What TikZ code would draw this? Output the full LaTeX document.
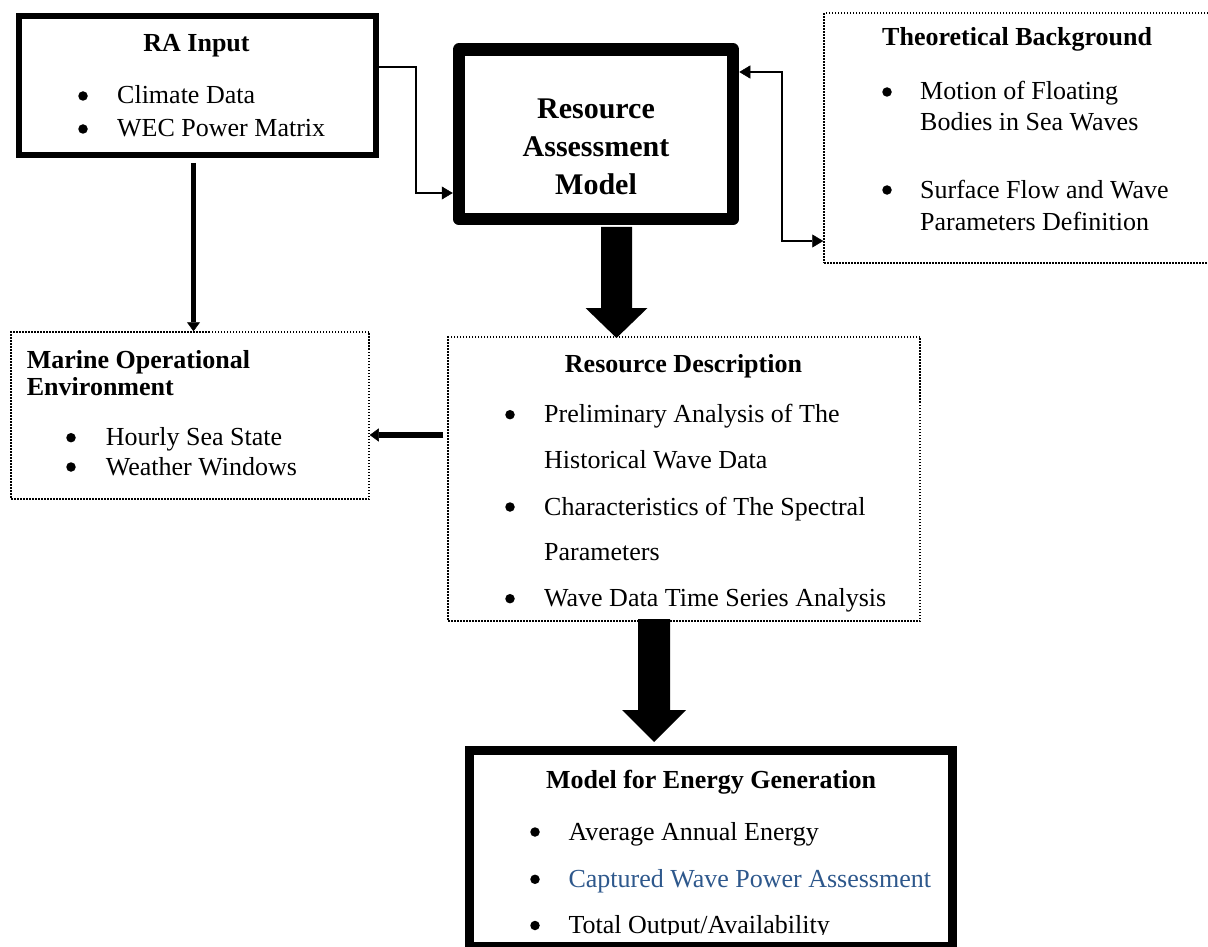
\documentclass[tikz,border=0pt]{standalone}
\usepackage{fontspec}
\setmainfont{Liberation Serif}
\usetikzlibrary{arrows.meta,calc}
\definecolor{capblue}{RGB}{46,88,140}

% one bulleted line: name, bullet x, text x, baseline y, text
\newcommand\bulletline[5]{%
  \node[dot] (#1b) at (#2,#4-8) {};
  \node[txt,anchor=base west] (#1) at (#3,#4) {#5};}

\begin{document}
\begin{tikzpicture}[x=1pt,y=-1pt,
  txt/.style={inner sep=0pt,font=\fontsize{26}{30}\selectfont},
  hd/.style={inner sep=0pt,font=\fontsize{26}{30}\selectfont\bfseries},
  bighd/.style={inner sep=0pt,font=\fontsize{30}{38}\selectfont\bfseries},
  dot/.style={circle,fill,inner sep=0pt,minimum size=9.5pt},
  solidbox/.style={draw,rectangle,inner sep=0pt},
  dotbox/.style={draw,rectangle,inner sep=0pt,line width=1.5pt,dash pattern=on 1.5pt off 1.5pt},
  thinconn/.style={line width=1.8pt,-{Triangle[length=11pt,width=13pt,line width=0.5pt]}},
  twoway/.style={line width=1.8pt,{Triangle[length=11pt,width=13pt,line width=0.5pt]}-{Triangle[length=11pt,width=13pt,line width=0.5pt]}},
  thickconn/.style={line width=5.5pt,-{Triangle[length=9pt,width=13pt,line width=0.5pt]}}
]
\useasboundingbox (0,0) rectangle (1208,947);
\clip (0,0) rectangle (1208,947);

% ---- boxes ----
\node[solidbox,line width=6pt,minimum width=357pt,minimum height=139pt] (ra) at (197.5,85.5) {};
\node[solidbox,line width=12.5pt,line join=round,minimum width=274pt,minimum height=169.5pt] (ram) at (596,134.25) {};
\node[dotbox,minimum width=391pt,minimum height=250pt] (tb) at (1019.5,138) {};
\node[dotbox,minimum width=358pt,minimum height=167pt] (moe) at (190,415.5) {};
\node[dotbox,minimum width=472pt,minimum height=284pt] (rd) at (684,479) {};
\node[solidbox,line width=9pt,minimum width=483pt,minimum height=195.5pt] (meg) at (711,848.25) {};

% ---- RA Input ----
\node[hd,anchor=base] (rat) at (196.5,52) {RA Input};
\bulletline{ra1}{83}{117}{104}{Climate Data}
\bulletline{ra2}{83}{117}{137}{WEC Power Matrix}

% ---- Resource Assessment Model ----
\node[bighd,anchor=base] (ramt1) at (596,118.3) {Resource};
\node[bighd,anchor=base] (ramt2) at (596,156.7) {Assessment};
\node[bighd,anchor=base] (ramt3) at (596,194.3) {Model};

% ---- Theoretical Background ----
\node[hd,anchor=base west] (tbt) at (882,46) {Theoretical Background};
\bulletline{tb1}{887}{920}{100}{Motion of Floating}
\node[txt,anchor=base west] (tb1c) at (920,130.7) {Bodies in Sea Waves};
\bulletline{tb2}{887}{920}{198}{Surface Flow and Wave}
\node[txt,anchor=base west] (tb2c) at (920,230) {Parameters Definition};

% ---- Marine Operational Environment ----
\node[hd,anchor=base west] (moet1) at (26.7,368.3) {Marine Operational};
\node[hd,anchor=base west] (moet2) at (26.7,395) {Environment};
\bulletline{moe1}{71}{105.7}{445.7}{Hourly Sea State}
\bulletline{moe2}{71}{105.7}{475}{Weather Windows}

% ---- Resource Description ----
\node[hd,anchor=base] (rdt) at (683.5,372.7) {Resource Description};
\bulletline{rd1}{510}{544}{422.7}{Preliminary Analysis of The}
\node[txt,anchor=base west] (rd1c) at (544,468.3) {Historical Wave Data};
\bulletline{rd2}{510}{544}{515}{Characteristics of The Spectral}
\node[txt,anchor=base west] (rd2c) at (544,560) {Parameters};
\bulletline{rd3}{510}{544}{606.7}{Wave Data Time Series Analysis}

% ---- Model for Energy Generation ----
\node[hd,anchor=base] (megt) at (711,788.3) {Model for Energy Generation};
\bulletline{meg1}{535}{568.3}{840}{Average Annual Energy}
\bulletline{meg2}{535}{568.3}{887.3}{\color{capblue}Captured Wave Power Assessment}
\begin{scope}
  \clip (480,900) rectangle (945,934.5);
  \bulletline{meg3}{535}{568.3}{933.5}{Total Output/Availability}
\end{scope}

% ---- connectors ----
\draw[thinconn] (ra.east |- 0,67) -- (416,67) |- (ram.west |- 0,193);
\draw[twoway] (ram.east |- 0,72) -- (782,72) |- (tb.west |- 0,241);
\draw[thickconn,shorten <=5pt] (ra.south -| 193.5,0) -- (moe.north -| 193.5,0);
\draw[thickconn,shorten <=4pt] (rd.west |- 0,435) -- (moe.east |- 0,435);

% block arrows
\coordinate (p1) at (ram.south -| 616.5,0);
\coordinate (p2) at (rd.north -| 616.5,0);
\fill ($(p1)+(-15.5,1.5)$) -- ($(p1)+(15.5,1.5)$) -- ($(p2)+(15.5,-28.25)$)
  -- ($(p2)+(31,-28.25)$) -- ($(p2)+(0,1.75)$) -- ($(p2)+(-31,-28.25)$)
  -- ($(p2)+(-15.5,-28.25)$) -- cycle;
\coordinate (p3) at (rd.south -| 654,0);
\coordinate (p4) at (meg.north -| 654,0);
\fill ($(p3)+(-16,-2.75)$) -- ($(p3)+(16,-2.75)$) -- ($(p4)+(16,-36)$)
  -- ($(p4)+(32,-36)$) -- ($(p4)+(0,-4)$) -- ($(p4)+(-32,-36)$)
  -- ($(p4)+(-16,-36)$) -- cycle;
\end{tikzpicture}
\end{document}
